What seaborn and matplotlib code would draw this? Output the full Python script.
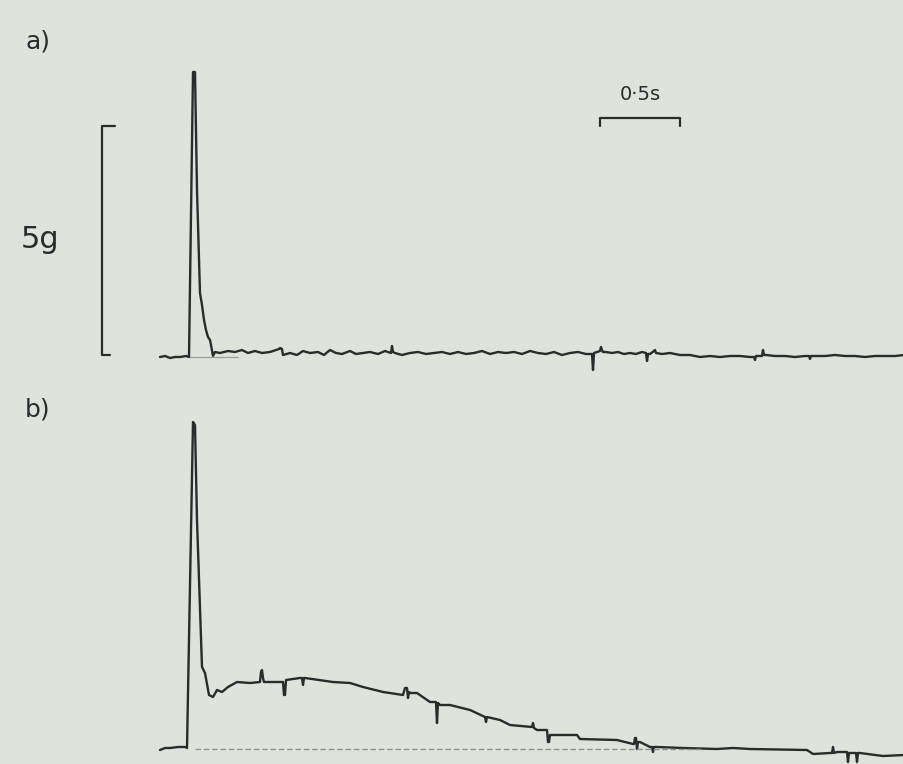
import numpy as np
import pandas as pd
import matplotlib
matplotlib.use("Agg")
import matplotlib.pyplot as plt
import seaborn as sns

# ---- data (pixel readings converted below to s and g) ----
px_a_x = [160,165,170,175,180,186,189,193,195,197,200,202,204,206,208,210,211,213,215,220,228,235,242,248,255,262,270,276,279,280,282,283,290,297,303,310,318,324,330,336,342,350,356,363,370,378,385,391,392,393,395,402,410,418,426,434,442,450,458,466,474,482,490,498,506,514,522,530,538,546,554,562,570,578,586,592,593,594,600,601,602,603,606,612,618,624,630,636,642,646,647,648,650,654,655,656,662,670,680,690,700,710,720,730,740,750,754,755,756,758,762,763,764,766,775,785,795,805,809,810,811,815,825,835,845,855,865,875,885,895,904]
px_a_y = [357,356,358,357,357,356,357,72,72,190,293,305,320,330,337,340,345,356,352,353,351,352,350,353,351,353,352,350,349,348,349,355,353,355,351,353,352,355,350,353,354,351,354,353,352,354,351,353,346,352,353,355,353,352,354,353,352,354,352,354,353,351,354,352,353,352,354,351,353,354,352,355,353,352,354,354,370,353,351,347,350,352,352,353,352,354,353,354,352,353,361,354,354,351,350,353,354,353,355,355,357,356,357,356,356,357,357,360,356,356,356,350,355,355,356,356,357,356,356,359,356,356,356,355,356,356,357,356,356,356,355]

px_b_x = [160,165,170,178,185,187,193,195,197,202,205,209,213,217,222,228,237,250,260,261,262,263,264,283,284,285,286,300,302,303,304,305,333,350,363,383,403,405,407,408,409,410,417,430,436,437,438,440,450,470,485,486,487,500,510,532,533,534,537,547,548,549,550,553,577,580,617,633,634,635,636,637,638,640,650,652,653,654,657,683,717,733,750,807,813,830,832,833,834,837,847,848,849,856,857,858,860,883,904]
px_b_y = [750,748,748,747,747,748,422,425,520,667,673,695,697,690,692,687,682,683,682,672,670,678,682,682,695,695,680,678,678,685,678,678,682,683,687,692,695,688,688,698,692,693,693,702,702,723,703,705,705,710,717,722,717,720,725,727,723,728,730,730,742,742,735,735,735,739,740,744,744,738,738,749,742,742,747,747,752,747,747,748,749,748,749,750,754,753,753,747,753,752,752,762,753,753,762,753,753,756,755]

STIM_PX = 190.0   # stimulus position on the record
PX_PER_S = 160.0
PX_PER_G = 46.0
BASE_A = 355.0
BASE_B = 748.0

t_a = (np.array(px_a_x) - STIM_PX) / PX_PER_S
f_a = (BASE_A - np.array(px_a_y)) / PX_PER_G
t_b = (np.array(px_b_x) - STIM_PX) / PX_PER_S
f_b = (BASE_B - np.array(px_b_y)) / PX_PER_G

df_a = pd.DataFrame({"t": t_a, "force": f_a})
df_b = pd.DataFrame({"t": t_b, "force": f_b})

time_bar = 0.5   # s
force_bar = 5.0  # g

BG = "#dee3db"
INK = "#2b2b2b"

sns.set_theme(style="white", rc={"axes.facecolor": BG, "figure.facecolor": BG})
plt.rcParams['font.family'] = ['DejaVu Sans']

W, H = 904, 764
fig = plt.figure(figsize=(W / 100, H / 100), dpi=100)

xlim = ((0 - STIM_PX) / PX_PER_S, (W - STIM_PX) / PX_PER_S)

ax_a = fig.add_axes([0, 1 - 380 / H, 1, 380 / H])
ax_a.set_xlim(*xlim)
ax_a.set_ylim((BASE_A - 380) / PX_PER_G, BASE_A / PX_PER_G)
ax_b = fig.add_axes([0, 0, 1, 384 / H])
ax_b.set_xlim(*xlim)
ax_b.set_ylim((BASE_B - 764) / PX_PER_G, (BASE_B - 380) / PX_PER_G)

for ax, df in ((ax_a, df_a), (ax_b, df_b)):
    sns.lineplot(data=df, x="t", y="force", ax=ax, estimator=None, sort=False,
                 color=INK, lw=1.7)
    ax.set_axis_off()

# faint zero reference lines
ax_a.plot([0.0, 0.3], [-0.04, -0.04], color="#9a9e98", lw=0.9)
ax_b.plot([0.03, 3.2], [-0.03, -0.03], color="#8d918b", lw=1.0, ls=(0, (4, 2)))

# vertical force scale bar
xb = (102 - STIM_PX) / PX_PER_S
ax_a.plot([xb + 0.08, xb, xb, xb + 0.05],
          [force_bar - 0.02, force_bar - 0.02, 0.0, 0.0], color=INK, lw=1.6)
ax_a.text((40 - STIM_PX) / PX_PER_S, (BASE_A - 240) / PX_PER_G, "5g",
          fontsize=22, color=INK, ha="center", va="center")

# time scale bar
x0 = (600 - STIM_PX) / PX_PER_S
yb = (BASE_A - 118) / PX_PER_G
tick = 8 / PX_PER_G
ax_a.plot([x0, x0, x0 + time_bar, x0 + time_bar], [yb - tick, yb, yb, yb - tick],
          color=INK, lw=1.6)
ax_a.text(x0 + time_bar / 2, (BASE_A - 95) / PX_PER_G, "0·5s",
          fontsize=14, color=INK, ha="center", va="center")

# panel labels
ax_a.text((38 - STIM_PX) / PX_PER_S, (BASE_A - 42) / PX_PER_G, "a)",
          fontsize=18, color=INK, ha="center", va="center")
ax_b.text((38 - STIM_PX) / PX_PER_S, (BASE_B - 410) / PX_PER_G, "b)",
          fontsize=18, color=INK, ha="center", va="center")

fig.savefig("out.png", dpi=100, facecolor=BG)
